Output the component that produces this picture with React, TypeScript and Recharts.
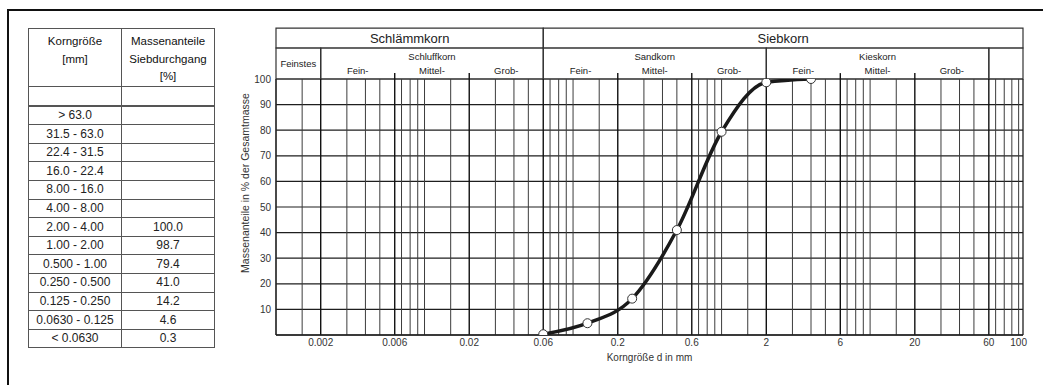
import {
  ComposedChart,
  Line,
  XAxis,
  YAxis,
  CartesianGrid,
  ReferenceLine,
  ReferenceArea,
} from 'recharts';

// Sieve analysis: size of sieve (mm) and cumulative passing (%)
const SIEVE_SIZES = [0.063, 0.125, 0.25, 0.5, 1, 2, 4];
const PASSING = [0.3, 4.6, 14.2, 41.0, 79.4, 98.7, 100.0];

// Table on the left
const TABLE_RANGES = [
  '',
  '> 63.0',
  '31.5 - 63.0',
  '22.4 - 31.5',
  '16.0 - 22.4',
  '8.00 - 16.0',
  '4.00 - 8.00',
  '2.00 - 4.00',
  '1.00 - 2.00',
  '0.500 - 1.00',
  '0.250 - 0.500',
  '0.125 - 0.250',
  '0.0630 - 0.125',
  '< 0.0630',
];
const TABLE_VALUES = ['', '', '', '', '', '', '', '100.0', '98.7', '79.4', '41.0', '14.2', '4.6', '0.3'];

const X_TICKS = [0.002, 0.0063, 0.02, 0.063, 0.2, 0.63, 2, 6.3, 20, 63, 100];
const X_TICK_LABELS = ['0.002', '0.006', '0.02', '0.06', '0.2', '0.6', '2', '6', '20', '60', '100'];
const Y_TICKS = [0, 10, 20, 30, 40, 50, 60, 70, 80, 90, 100];

const X_MIN = 0.001;
const X_MAX = 107;

// log paper lines
const GRID_DECADES = [0.001, 0.01, 0.1, 1, 10];
const GRID_STEPS = [1, 1.5, 2, 3, 4, 5, 6.3, 7, 8, 9];
const BOUNDARIES = [0.002, 0.0063, 0.02, 0.063, 0.2, 0.63, 2, 6.3, 20, 63];
const FRACTION_TICKS = [0.0063, 0.02, 0.2, 0.63, 6.3, 20];

// header bands (y in % units above the plot)
const HEAD_TOP = 119.9;
const HEAD_MID = 112.1;
const SUB_SPLIT = 105.6;
const FRACTION_TICK_TOP = 102.3;

const MAIN_GROUPS = [
  { name: 'Schlämmkorn', from: 0.001, to: 0.063 },
  { name: 'Siebkorn', from: 0.063, to: X_MAX },
];
const SUB_GROUPS = [
  { name: 'Feinstes', from: 0.001, to: 0.002 },
  { name: 'Schluffkorn', from: 0.002, to: 0.063 },
  { name: 'Sandkorn', from: 0.063, to: 2 },
  { name: 'Kieskorn', from: 2, to: 63 },
  { name: '', from: 63, to: X_MAX },
];
const FRACTIONS = [
  { name: 'Fein-', from: 0.002, to: 0.0063 },
  { name: 'Mittel-', from: 0.0063, to: 0.02 },
  { name: 'Grob-', from: 0.02, to: 0.063 },
  { name: 'Fein-', from: 0.063, to: 0.2 },
  { name: 'Mittel-', from: 0.2, to: 0.63 },
  { name: 'Grob-', from: 0.63, to: 2 },
  { name: 'Fein-', from: 2, to: 6.3 },
  { name: 'Mittel-', from: 6.3, to: 20 },
  { name: 'Grob-', from: 20, to: 63 },
];

const FONT = '"Liberation Sans", Arial, sans-serif';
const INK = '#1e1e1e';

const gridValues: number[] = [];
GRID_DECADES.forEach((d) => GRID_STEPS.forEach((s) => gridValues.push(d * s)));
gridValues.push(100);

const isBoundary = (v: number) => BOUNDARIES.some((b) => Math.abs(Math.log10(v / b)) < 1e-6);

const chartData = SIEVE_SIZES.map((size, i) => ({ size, passing: PASSING[i] }));

function SieveTable() {
  const cell: React.CSSProperties = {
    border: '1px solid #555',
    height: 17.6,
    padding: 0,
    textAlign: 'center',
    lineHeight: '17px',
  };
  return (
    <table
      style={{
        position: 'absolute',
        left: 28,
        top: 28,
        width: 186,
        borderCollapse: 'collapse',
        tableLayout: 'fixed',
        fontFamily: FONT,
        fontSize: 12,
        color: '#222',
      }}
    >
      <colgroup>
        <col style={{ width: 93 }} />
        <col style={{ width: 93 }} />
      </colgroup>
      <thead>
        <tr>
          {[['Korngröße', '[mm]'], ['Massenanteile', 'Siebdurchgang', '[%]']].map((lines, i) => (
            <th
              key={i}
              style={{
                border: '1px solid #555',
                height: 51,
                padding: '4px 0 0 0',
                verticalAlign: 'top',
                fontWeight: 'normal',
                fontSize: 11.5,
                lineHeight: '17.7px',
                color: '#111',
              }}
            >
              {lines.map((l) => (
                <div key={l}>{l}</div>
              ))}
            </th>
          ))}
        </tr>
      </thead>
      <tbody>
        {TABLE_RANGES.map((r, i) => (
          <tr key={i}>
            <td style={{ ...cell, borderBottom: i === 0 ? '2px solid #555' : cell.border }}>{r}</td>
            <td style={{ ...cell, borderBottom: i === 0 ? '2px solid #555' : cell.border }}>{TABLE_VALUES[i]}</td>
          </tr>
        ))}
      </tbody>
    </table>
  );
}

export default function App() {
  return (
    <div style={{ position: 'absolute', left: 0, top: 0, width: 1043, height: 385, background: '#fff', fontFamily: FONT }}>
      {/* frame */}
      <div style={{ position: 'absolute', left: 7, top: 9, width: 1036, height: 2, background: '#111' }} />
      <div style={{ position: 'absolute', left: 7, top: 9, width: 2, height: 376, background: '#111' }} />

      <SieveTable />

      <div style={{ position: 'absolute', left: 0, top: 0 }}>
        <ComposedChart width={1043} height={385} data={chartData} margin={{ top: 79, right: 20, bottom: 20, left: 236 }}>
          <CartesianGrid vertical={false} stroke={INK} strokeWidth={1.2} />
          <XAxis
            dataKey="size"
            type="number"
            scale="log"
            domain={[X_MIN, X_MAX]}
            allowDataOverflow
            ticks={X_TICKS}
            interval={0}
            height={30}
            tickSize={0}
            tickMargin={4}
            tickFormatter={(v: number) => X_TICK_LABELS[X_TICKS.indexOf(v)] ?? ''}
            tick={{ fill: '#333', fontSize: 10 }}
            axisLine={{ stroke: INK, strokeWidth: 1.5 }}
            label={{ value: 'Korngröße d in mm', position: 'insideBottom', offset: 4, fontSize: 10, fill: '#333' }}
          />
          <YAxis
            type="number"
            domain={[0, 100]}
            allowDataOverflow
            ticks={Y_TICKS}
            interval={0}
            width={40}
            tickSize={0}
            tickMargin={5}
            tickFormatter={(v: number) => (v === 0 ? '' : String(v))}
            tick={{ fill: '#333', fontSize: 10 }}
            axisLine={{ stroke: INK, strokeWidth: 1.3 }}
            label={{
              content: (props: any) => {
                const vb = props.viewBox;
                const x = vb.x + 9;
                const y = vb.y + vb.height / 2 - 24;
                return (
                  <text x={x} y={y} transform={`rotate(-90 ${x} ${y})`} textAnchor="middle" dominantBaseline="central" fontSize={10.5} fill="#333">
                    Massenanteile in % der Gesamtmasse
                  </text>
                );
              },
            }}
          />

          {/* log paper vertical lines */}
          {gridValues.map((v) => (
            <ReferenceLine
              key={v}
              x={v}
              stroke={isBoundary(v) ? '#111' : '#3c3c3c'}
              strokeWidth={isBoundary(v) ? 1.4 : 1}
            />
          ))}
          <ReferenceLine x={X_MAX} stroke={INK} strokeWidth={1.3} />

          {/* header */}
          {MAIN_GROUPS.map((g) => (
            <ReferenceArea
              key={g.name}
              x1={g.from}
              x2={g.to}
              y1={HEAD_MID}
              y2={HEAD_TOP}
              ifOverflow="visible"
              fill="none"
              stroke="#333"
              strokeWidth={1.2}
              label={{ value: g.name, position: 'center', fontSize: 13, fill: '#222' }}
            />
          ))}
          {SUB_GROUPS.map((g) => (
            <ReferenceArea
              key={g.from}
              x1={g.from}
              x2={g.to}
              y1={100}
              y2={HEAD_MID}
              ifOverflow="visible"
              fill="none"
              stroke="#333"
              strokeWidth={1.2}
              label={g.name === 'Feinstes' ? { value: g.name, position: 'center', fontSize: 9.5, fill: '#222' } : undefined}
            />
          ))}
          {SUB_GROUPS.filter((g) => g.name && g.name !== 'Feinstes').map((g) => (
            <ReferenceArea
              key={'t' + g.name}
              x1={g.from}
              x2={g.to}
              y1={SUB_SPLIT}
              y2={HEAD_MID}
              ifOverflow="visible"
              fill="none"
              stroke="none"
              label={{ value: g.name, position: 'center', fontSize: 9.5, fill: '#222' }}
            />
          ))}
          {FRACTIONS.map((f) => (
            <ReferenceArea
              key={'f' + f.from}
              x1={f.from}
              x2={f.to}
              y1={100}
              y2={SUB_SPLIT + 1}
              ifOverflow="visible"
              fill="none"
              stroke="none"
              label={{ value: f.name, position: 'center', fontSize: 9.5, fill: '#222' }}
            />
          ))}
          {FRACTION_TICKS.map((t) => (
            <ReferenceLine
              key={'ft' + t}
              segment={[
                { x: t, y: 100 },
                { x: t, y: FRACTION_TICK_TOP },
              ]}
              ifOverflow="visible"
              stroke="#111"
              strokeWidth={1.4}
            />
          ))}

          <Line
            type="monotone"
            dataKey="passing"
            stroke="#1a1a1a"
            strokeWidth={3.5}
            dot={{ r: 4.5, fill: '#fff', stroke: '#333', strokeWidth: 1 }}
            activeDot={false}
            isAnimationActive={false}
          />
        </ComposedChart>
      </div>
    </div>
  );
}
